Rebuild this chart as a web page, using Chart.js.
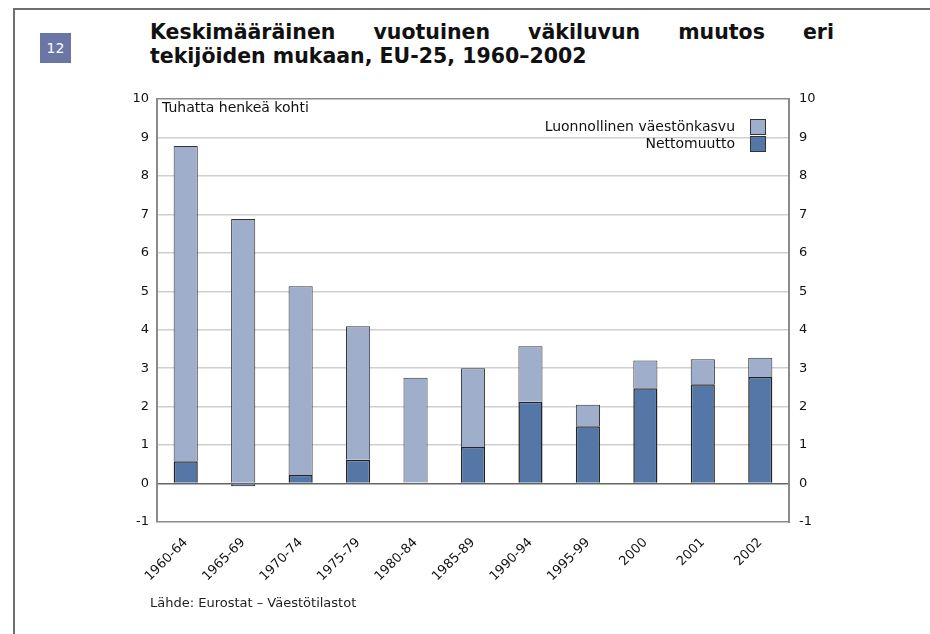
<!DOCTYPE html>
<html lang="fi">
<head>
  <meta charset="UTF-8" />
  <title>Keskimääräinen vuotuinen väkiluvun muutos</title>
  <script src="https://cdn.jsdelivr.net/npm/chart.js"></script>
  <style>
    html, body { margin: 0; padding: 0; background: #fff; }
    body { width: 930px; height: 634px; position: relative; overflow: hidden; font-family: "DejaVu Sans", Verdana, sans-serif; }
    .frame { position: absolute; left: 13px; top: 8px; width: 930px; height: 700px; border-left: 2px solid #6e6e6e; border-top: 2px solid #6e6e6e; }
    .badge { position: absolute; left: 40px; top: 33px; width: 31px; height: 30px; background: #6a77a6; color: #fff; font-size: 14px; line-height: 30px; text-align: center; }
    .title { position: absolute; left: 150px; top: 20px; width: 684px; font-weight: bold; font-size: 20.5px; line-height: 24px; color: #111; }
    .title .l1 { text-align: justify; text-align-last: justify; }
    .source { position: absolute; left: 150px; top: 595px; font-size: 13px; color: #222; }
    #wrap { position: absolute; left: 0; top: 0; width: 930px; height: 634px; }
  </style>
</head>
<body>
  <div class="frame"></div>
  <div class="badge">12</div>
  <div class="title">
    <div class="l1">Keskimääräinen vuotuinen väkiluvun muutos eri</div>
    <div>tekijöiden mukaan, EU-25, 1960–2002</div>
  </div>
  <div id="wrap"><canvas id="chart" width="930" height="634"></canvas></div>
  <div class="source">Lähde: Eurostat – Väestötilastot</div>

  <script>
    const periods = ['1960-64', '1965-69', '1970-74', '1975-79', '1980-84', '1985-89', '1990-94', '1995-99', '2000', '2001', '2002'];
    // tuhatta henkeä kohti
    const nettomuutto = [0.58, -0.07, 0.22, 0.62, 0.03, 0.95, 2.13, 1.49, 2.48, 2.58, 2.77];
    const luonnollinen = [8.20, 6.88, 4.91, 3.47, 2.72, 2.05, 1.44, 0.56, 0.72, 0.65, 0.50];
    const yTicks = [-1, 0, 1, 2, 3, 4, 5, 6, 7, 8, 9, 10];

    const font = { family: '"DejaVu Sans", Verdana, sans-serif', size: 13 };

    // legenda ja yksikköteksti piirretään kuvaajan sisään
    const innerText = {
      id: 'innerText',
      afterDraw(chart) {
        const { ctx, chartArea } = chart;
        ctx.save();
        ctx.font = '14px "DejaVu Sans", Verdana, sans-serif';
        ctx.fillStyle = '#111';
        ctx.textBaseline = 'middle';
        ctx.textAlign = 'left';
        ctx.fillText('Tuhatta henkeä kohti', chartArea.left + 5, chartArea.top + 9);

        const items = chart.data.datasets.slice().reverse();
        items.forEach((ds, i) => {
          const y = chartArea.top + 28 + i * 17;
          ctx.textAlign = 'right';
          ctx.fillStyle = '#111';
          ctx.fillText(ds.label, chartArea.right - 54, y);
          ctx.fillStyle = ds.backgroundColor;
          ctx.fillRect(chartArea.right - 38.5, y - 7.5, 15, 15);
          ctx.strokeStyle = '#333';
          ctx.lineWidth = 1;
          ctx.strokeRect(chartArea.right - 38.5, y - 7.5, 15, 15);
        });
        ctx.restore();
      }
    };

    new Chart(document.getElementById('chart'), {
      type: 'bar',
      data: {
        labels: periods,
        datasets: [
          {
            label: 'Nettomuutto',
            data: nettomuutto,
            backgroundColor: '#5577a8',
            borderColor: '#222',
            borderWidth: 1.5,
            barPercentage: 0.42,
            categoryPercentage: 1
          },
          {
            label: 'Luonnollinen väestönkasvu',
            data: luonnollinen,
            backgroundColor: '#9fafcb',
            borderColor: '#333',
            borderWidth: 1,
            barPercentage: 0.42,
            categoryPercentage: 1
          }
        ]
      },
      options: {
        responsive: false,
        animation: false,
        layout: { padding: { left: 117, right: 101, top: 99, bottom: 40 } },
        plugins: {
          legend: { display: false },
          tooltip: { enabled: false }
        },
        scales: {
          x: {
            stacked: true,
            grid: { display: false },
            border: { display: false },
            ticks: { color: '#111', font: font, maxRotation: 45, minRotation: 45, padding: 5 },
            afterFit(axis) { axis.height = 72; }
          },
          y: {
            stacked: true,
            position: 'left',
            min: -1,
            max: 10,
            afterBuildTicks(axis) { axis.ticks = yTicks.map(v => ({ value: v })); },
            grid: {
              drawTicks: false,
              lineWidth: 1.5,
              color: ctx => {
                const v = ctx.tick.value;
                if (v === 0) return '#666';
                if (v === -1 || v === 10) return '#8a8a8a';
                return '#cfcfcf';
              }
            },
            border: { display: true, color: '#8a8a8a', width: 2 },
            ticks: { color: '#111', font: font, padding: 8 },
            afterFit(axis) { axis.width = 40; }
          },
          y2: {
            position: 'right',
            min: -1,
            max: 10,
            afterBuildTicks(axis) { axis.ticks = yTicks.map(v => ({ value: v })); },
            grid: { display: false, drawTicks: false },
            border: { display: true, color: '#8a8a8a', width: 2 },
            ticks: { color: '#111', font: font, padding: 10 },
            afterFit(axis) { axis.width = 40; }
          }
        }
      },
      plugins: [innerText]
    });
  </script>
</body>
</html>
